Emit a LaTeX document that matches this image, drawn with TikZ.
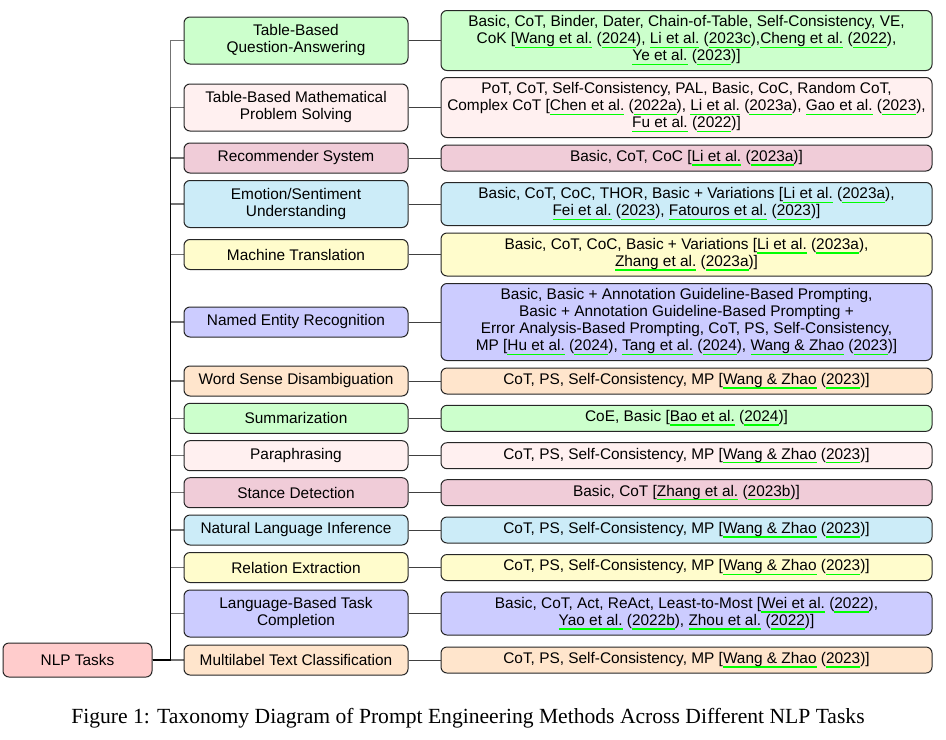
\documentclass[tikz,border=0pt]{standalone}
\usepackage{fontspec}
\setmainfont{Liberation Serif}
\setsansfont{Liberation Sans}
\definecolor{cgreen}{HTML}{CCFFCC}
\definecolor{cpink}{HTML}{FFF0F0}
\definecolor{cmauve}{HTML}{F0CCD8}
\definecolor{csky}{HTML}{CCECF8}
\definecolor{cyel}{HTML}{FFFCCC}
\definecolor{clav}{HTML}{CCCCFF}
\definecolor{cpeach}{HTML}{FFE5CC}
\definecolor{croot}{HTML}{FFCCCC}
\definecolor{linkgreen}{HTML}{00FF00}
\newcommand{\boxfont}{\sffamily\fontsize{7.7}{8.5}\selectfont}
\newcommand{\cl}[1]{\setbox0=\hbox{#1}\rlap{\color{linkgreen}\rule[-2.2pt]{\wd0}{0.85pt}}\box0\relax}
\begin{document}
\begin{tikzpicture}[x=0.5pt,y=-0.5pt,
  box/.style={draw=black!85, line width=0.5pt, rounded corners=3pt, align=center,
              inner xsep=0pt, inner ysep=0pt, font=\boxfont},
  mid/.style={box, minimum width=112pt},
  leaf/.style={box, minimum width=245.5pt},
  hA/.style={minimum height=15pt},
  hB/.style={minimum height=23.5pt},
  lA/.style={minimum height=13pt},
  lB/.style={minimum height=21.5pt},
  lC/.style={minimum height=30pt},
  lD/.style={minimum height=38.5pt},
  edge/.style={draw=black, line width=0.65pt, opacity=0.55},
  link/.style={draw=black!75, line width=0.5pt}]
\useasboundingbox (0,0) rectangle (946,739);

\node[box, fill=croot, minimum width=74.5pt, minimum height=17pt] (root) at (77.5,660) {NLP Tasks};

\node[mid, hB, fill=cgreen] (m1) at (296,40.5) {Table-Based\\Question-Answering};
\node[leaf, lC, fill=cgreen] (l1) at (686.5,40.5) {Basic, CoT, Binder, Dater, Chain-of-Table, Self-Consistency, VE,\\CoK [\cl{Wang et al.} (\cl{2024}), \cl{Li et al.} (\cl{2023c}),\cl{Cheng et al.} (\cl{2022}),\\\cl{Ye et al.} (\cl{2023})]};

\node[mid, hB, fill=cpink] (m2) at (296,107.5) {Table-Based Mathematical\\Problem Solving};
\node[leaf, lC, fill=cpink] (l2) at (686.5,107.5) {PoT, CoT, Self-Consistency, PAL, Basic, CoC, Random CoT,\\Complex CoT [\cl{Chen et al.} (\cl{2022a}), \cl{Li et al.} (\cl{2023a}), \cl{Gao et al.} (\cl{2023}),\\\cl{Fu et al.} (\cl{2022})]};

\node[mid, hA, fill=cmauve] (m3) at (296,158) {Recommender System};
\node[leaf, lA, fill=cmauve] (l3) at (686.5,158) {Basic, CoT, CoC [\cl{Li et al.} (\cl{2023a})]};

\node[mid, hB, fill=csky] (m4) at (296,204) {Emotion/Sentiment\\Understanding};
\node[leaf, lB, fill=csky] (l4) at (686.5,204) {Basic, CoT, CoC, THOR, Basic + Variations [\cl{Li et al.} (\cl{2023a}),\\\cl{Fei et al.} (\cl{2023}), \cl{Fatouros et al.} (\cl{2023})]};

\node[mid, hA, fill=cyel] (m5) at (296,254.5) {Machine Translation};
\node[leaf, lB, fill=cyel] (l5) at (686.5,254.5) {Basic, CoT, CoC, Basic + Variations [\cl{Li et al.} (\cl{2023a}),\\\cl{Zhang et al.} (\cl{2023a})]};

\node[mid, hA, fill=clav] (m6) at (296,322) {Named Entity Recognition};
\node[leaf, lD, fill=clav] (l6) at (686.5,322) {Basic, Basic + Annotation Guideline-Based Prompting,\\Basic + Annotation Guideline-Based Prompting +\\Error Analysis-Based Prompting, CoT, PS, Self-Consistency,\\MP [\cl{Hu et al.} (\cl{2024}), \cl{Tang et al.} (\cl{2024}), \cl{Wang \& Zhao} (\cl{2023})]};

\node[mid, hA, fill=cpeach] (m7) at (296,381) {Word Sense Disambiguation};
\node[leaf, lA, fill=cpeach] (l7) at (686.5,381) {CoT, PS, Self-Consistency, MP [\cl{Wang \& Zhao} (\cl{2023})]};

\node[mid, hA, fill=cgreen] (m8) at (296,418.3) {Summarization};
\node[leaf, lA, fill=cgreen] (l8) at (686.5,418.3) {CoE, Basic [\cl{Bao et al.} (\cl{2024})]};

\node[mid, hA, fill=cpink] (m9) at (296,455.7) {Paraphrasing};
\node[leaf, lA, fill=cpink] (l9) at (686.5,455.7) {CoT, PS, Self-Consistency, MP [\cl{Wang \& Zhao} (\cl{2023})]};

\node[mid, hA, fill=cmauve] (m10) at (296,492.7) {Stance Detection};
\node[leaf, lA, fill=cmauve] (l10) at (686.5,492.7) {Basic, CoT [\cl{Zhang et al.} (\cl{2023b})]};

\node[mid, hA, fill=csky] (m11) at (296,530) {Natural Language Inference};
\node[leaf, lA, fill=csky] (l11) at (686.5,530) {CoT, PS, Self-Consistency, MP [\cl{Wang \& Zhao} (\cl{2023})]};

\node[mid, hA, fill=cyel] (m12) at (296,567.5) {Relation Extraction};
\node[leaf, lA, fill=cyel] (l12) at (686.5,567.5) {CoT, PS, Self-Consistency, MP [\cl{Wang \& Zhao} (\cl{2023})]};

\node[mid, hB, fill=clav] (m13) at (296,613.5) {Language-Based Task\\Completion};
\node[leaf, lB, fill=clav] (l13) at (686.5,613.5) {Basic, CoT, Act, ReAct, Least-to-Most [\cl{Wei et al.} (\cl{2022}),\\\cl{Yao et al.} (\cl{2022b}), \cl{Zhou et al.} (\cl{2022})]};

\node[mid, hA, fill=cpeach] (m14) at (296,660) {Multilabel Text Classification};
\node[leaf, lA, fill=cpeach] (l14) at (686.5,660) {CoT, PS, Self-Consistency, MP [\cl{Wang \& Zhao} (\cl{2023})]};

\foreach \i in {1,...,14} {
  \draw[edge] (root.east) -- ++(9pt,0) |- (m\i.west);
  \draw[link] (m\i.east) -- (l\i.west);
}

\node[font=\rmfamily\fontsize{10.8}{13}\selectfont, anchor=base, inner sep=0pt] (cap) at (468,723) {Figure 1: Taxonomy Diagram of Prompt Engineering Methods Across Different NLP Tasks};
\end{tikzpicture}
\end{document}
